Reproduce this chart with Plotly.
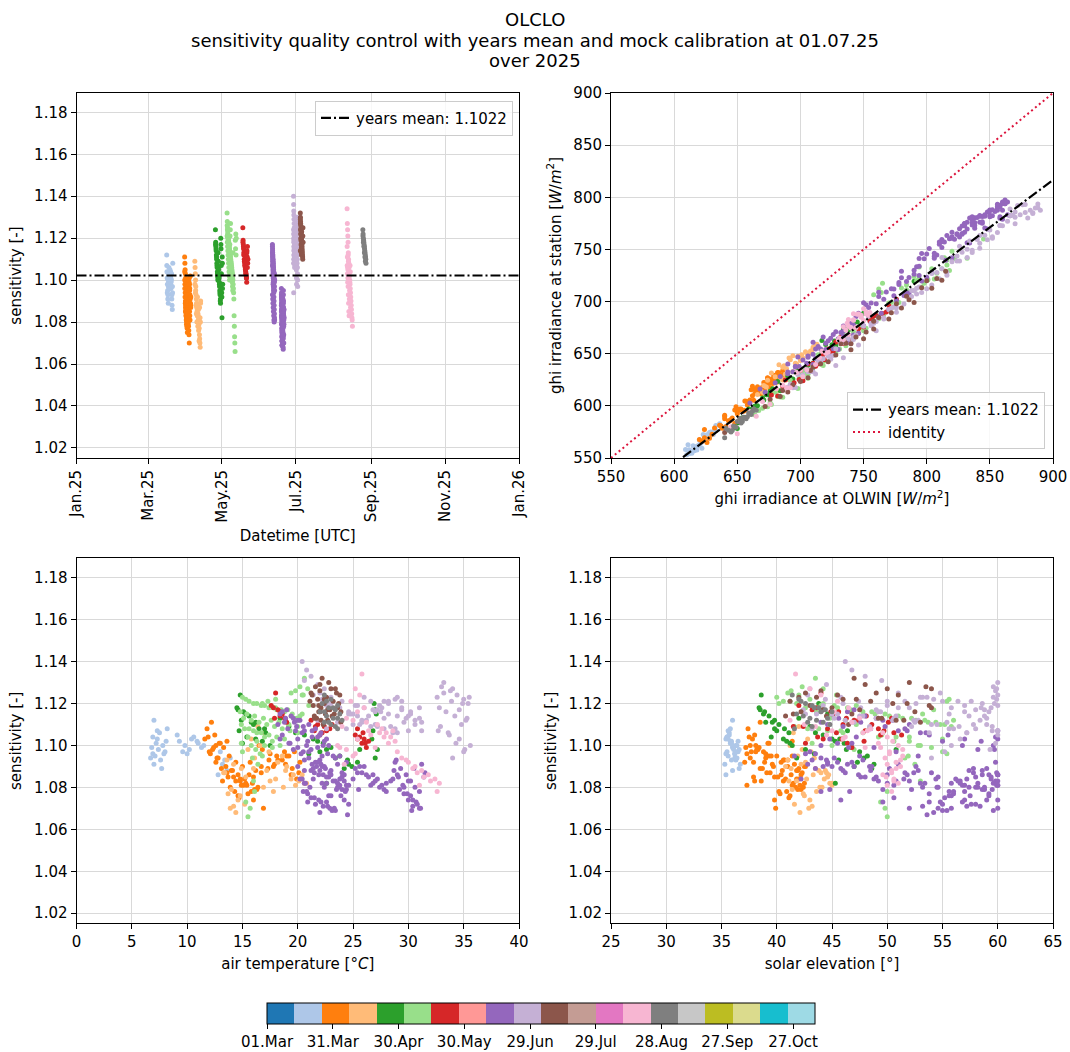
import numpy as np
import pandas as pd
import plotly.graph_objects as go

W, H = 1070, 1052
FONT = "DejaVu Sans"
FS = 15
MEAN = 1.1022
BASE_DATE = "2025-03-01"

TAB20 = ["#1f77b4", "#aec7e8", "#ff7f0e", "#ffbb78", "#2ca02c", "#98df8a",
         "#d62728", "#ff9896", "#9467bd", "#c5b0d5", "#8c564b", "#c49c94",
         "#e377c2", "#f7b6d2", "#7f7f7f", "#c7c7c7", "#bcbd22", "#dbdb8d",
         "#17becf", "#9edae5"]
CB_MIN, CB_MAX = 0, 250
CB_TICKS = [0, 30, 60, 90, 120, 150, 180, 210, 240]
CB_LABELS = ["01.Mar", "31.Mar", "30.Apr", "30.May", "29.Jun", "29.Jul",
             "28.Aug", "27.Sep", "27.Oct"]
TITLE_LINES = ["OLCLO",
               "sensitivity quality control with years mean and mock calibration at 01.07.25",
               "over 2025"]

# rows: (days after 01.Mar, sensitivity, air temperature degC, solar elevation deg, ghi at OLWIN W/m2)
light_blue = [
    (15.4, 1.112, 7.0, 36.0, 622), (15.6, 1.104, 6.9, 35.5, 612), (15.8, 1.101, 7.2, 35.8, 618),
    (16.0, 1.098, 7.4, 36.1, 624), (16.2, 1.095, 7.1, 35.6, 615), (16.4, 1.093, 7.6, 35.9, 620),
    (16.6, 1.100, 7.8, 36.3, 628), (16.8, 1.097, 8.0, 36.5, 631), (17.0, 1.103, 7.3, 35.4, 610),
    (17.2, 1.106, 7.5, 35.7, 616), (17.4, 1.099, 6.8, 36.0, 622), (17.6, 1.096, 7.9, 36.2, 626),
    (18.0, 1.102, 9.3, 35.8, 619), (18.2, 1.100, 9.8, 36.4, 629), (18.4, 1.098, 10.2, 36.6, 633),
    (18.6, 1.104, 10.6, 35.5, 613), (18.8, 1.101, 11.0, 35.9, 621), (19.0, 1.099, 11.3, 36.1, 625),
    (19.2, 1.097, 9.6, 36.3, 627), (19.4, 1.103, 10.4, 35.6, 614), (19.6, 1.091, 13.2, 36.7, 636),
    (19.8, 1.088, 13.6, 36.0, 623), (20.0, 1.086, 12.8, 35.4, 611), (20.2, 1.094, 13.9, 36.2, 626),
    (20.4, 1.108, 8.2, 35.8, 618), (15.5, 1.107, 7.3, 35.6, 614), (15.9, 1.094, 6.7, 36.4, 629),
    (16.3, 1.091, 7.0, 35.3, 609), (16.7, 1.089, 7.7, 36.6, 633), (17.1, 1.102, 8.1, 35.9, 620),
    (17.5, 1.096, 6.9, 36.2, 626), (18.1, 1.105, 9.1, 35.7, 617), (18.5, 1.102, 10.9, 36.5, 631),
    (18.9, 1.096, 10.0, 35.4, 611), (19.3, 1.100, 11.5, 36.0, 623), (19.7, 1.093, 13.4, 36.3, 628),
    (20.1, 1.097, 13.0, 35.5, 612),
]
orange = [
    (30.2, 1.111, 12.2, 38.5, 648), (30.4, 1.108, 11.8, 37.4, 626), (30.6, 1.105, 12.5, 38.0, 641),
    (30.8, 1.103, 11.6, 37.8, 638), (31.0, 1.101, 12.9, 39.2, 655), (31.2, 1.099, 13.3, 37.2, 622),
    (31.4, 1.097, 12.0, 38.8, 650), (31.6, 1.095, 13.8, 39.5, 658), (31.8, 1.094, 12.7, 37.6, 636),
    (32.0, 1.092, 14.4, 40.4, 668), (32.2, 1.090, 15.0, 41.0, 672), (32.4, 1.088, 14.1, 41.8, 680),
    (32.6, 1.086, 15.6, 42.2, 684), (32.8, 1.084, 14.8, 40.8, 670), (33.0, 1.082, 15.3, 41.5, 677),
    (33.2, 1.080, 13.9, 42.4, 682), (33.4, 1.078, 15.8, 40.2, 664), (33.6, 1.076, 14.6, 41.2, 674),
    (33.8, 1.074, 16.0, 39.8, 661), (34.0, 1.070, 16.9, 39.9, 662), (34.2, 1.098, 16.8, 38.3, 646),
    (34.4, 1.096, 17.5, 39.0, 653), (34.6, 1.093, 18.2, 40.6, 669), (34.8, 1.091, 18.9, 41.6, 678),
    (35.0, 1.089, 19.5, 42.0, 681), (35.2, 1.087, 20.1, 39.4, 657), (30.3, 1.100, 16.5, 38.1, 644),
    (30.9, 1.085, 16.0, 37.9, 640), (31.5, 1.083, 13.2, 38.6, 649), (32.3, 1.081, 14.9, 37.3, 624),
    (33.1, 1.079, 16.3, 41.9, 679), (33.7, 1.090, 17.8, 42.5, 686), (34.3, 1.095, 19.2, 40.0, 663),
    (34.9, 1.102, 13.6, 41.4, 676), (35.3, 1.092, 20.2, 38.9, 652),
    (30.25, 1.104, 11.9, 37.5, 628), (30.45, 1.098, 12.3, 38.2, 643), (30.65, 1.094, 12.8, 39.0, 653),
    (30.85, 1.090, 13.5, 39.7, 660), (31.05, 1.088, 14.0, 40.5, 667), (31.25, 1.086, 14.6, 41.3, 675),
    (31.45, 1.084, 15.2, 42.0, 682), (31.65, 1.082, 15.9, 42.5, 686), (31.85, 1.080, 16.4, 41.7, 679),
    (32.05, 1.078, 14.3, 40.9, 671), (32.25, 1.077, 15.5, 40.3, 666), (32.45, 1.075, 14.7, 41.1, 674),
    (32.65, 1.087, 16.7, 42.3, 684), (32.85, 1.089, 17.3, 38.7, 649), (33.05, 1.091, 17.9, 39.6, 659),
    (33.25, 1.093, 18.6, 40.7, 669), (33.45, 1.095, 19.0, 41.4, 676), (33.65, 1.097, 19.7, 37.7, 637),
    (33.85, 1.099, 12.4, 38.4, 645), (34.05, 1.101, 13.0, 39.3, 656), (34.25, 1.085, 13.7, 40.1, 664),
    (34.45, 1.083, 14.4, 38.0, 640), (34.65, 1.081, 15.1, 42.1, 683), (34.85, 1.092, 15.7, 37.1, 620),
    (35.05, 1.088, 16.2, 41.9, 681),
    (30.35, 1.096, 12.1, 37.3, 624), (30.55, 1.092, 12.6, 37.9, 632), (30.75, 1.089, 13.1, 38.5, 640),
    (30.95, 1.087, 13.6, 39.1, 648), (31.15, 1.085, 14.2, 39.8, 656), (31.35, 1.083, 14.8, 40.6, 665),
    (31.55, 1.081, 15.4, 41.4, 673), (31.75, 1.079, 16.1, 42.2, 682), (31.95, 1.090, 16.7, 42.6, 686),
    (32.15, 1.093, 17.4, 41.0, 669), (32.35, 1.095, 18.1, 39.3, 650), (32.55, 1.097, 18.8, 38.1, 637),
    (32.75, 1.086, 19.4, 40.4, 662), (32.95, 1.084, 19.9, 41.8, 677), (33.15, 1.100, 12.6, 37.6, 630),
]
light_orange = [
    (38.6, 1.109, 16.4, 42.0, 682), (38.8, 1.106, 17.0, 41.5, 676), (39.0, 1.103, 15.8, 42.8, 690),
    (39.2, 1.100, 16.6, 41.2, 672), (39.4, 1.097, 17.4, 43.1, 694), (39.6, 1.093, 13.6, 41.0, 670),
    (39.8, 1.091, 14.2, 42.2, 684), (40.0, 1.089, 14.9, 43.5, 697), (40.2, 1.087, 13.3, 44.0, 702),
    (40.4, 1.085, 15.3, 44.6, 708), (40.6, 1.083, 17.5, 41.8, 680), (40.8, 1.092, 18.2, 42.6, 688),
    (41.0, 1.088, 18.9, 43.8, 700), (41.2, 1.084, 19.4, 44.3, 705), (41.4, 1.081, 19.8, 45.0, 712),
    (41.6, 1.086, 20.4, 43.3, 696), (41.8, 1.082, 20.8, 44.8, 710), (42.0, 1.079, 14.0, 41.4, 674),
    (42.2, 1.077, 13.7, 42.4, 686), (42.4, 1.074, 14.6, 43.0, 692), (42.6, 1.072, 15.2, 41.6, 677),
    (42.8, 1.070, 13.9, 42.9, 691), (43.0, 1.068, 14.4, 42.1, 683), (43.2, 1.080, 16.9, 44.1, 704),
    (43.4, 1.090, 19.0, 40.8, 666), (41.1, 1.078, 17.8, 43.6, 698), (39.3, 1.095, 18.6, 41.9, 681),
    (38.7, 1.098, 15.5, 42.3, 686), (39.1, 1.094, 16.1, 43.4, 697), (39.5, 1.088, 17.2, 44.4, 706),
    (39.9, 1.084, 18.0, 42.7, 689), (40.3, 1.080, 18.7, 43.9, 701), (40.7, 1.086, 19.6, 44.7, 709),
    (41.3, 1.083, 20.1, 41.1, 671), (41.7, 1.076, 14.8, 42.5, 687), (42.1, 1.071, 14.2, 43.2, 694),
    (42.5, 1.087, 13.4, 44.5, 707), (42.9, 1.082, 20.6, 45.0, 713), (43.3, 1.089, 16.0, 41.3, 673),
]
green = [
    (55.6, 1.124, 14.8, 38.6, 650), (55.8, 1.118, 14.5, 38.4, 647), (56.0, 1.116, 15.1, 38.9, 652),
    (56.2, 1.114, 15.6, 39.3, 656), (56.4, 1.112, 14.9, 39.8, 662), (56.6, 1.110, 16.0, 40.2, 666),
    (56.8, 1.108, 16.5, 40.7, 671), (57.0, 1.106, 17.1, 41.1, 675), (57.2, 1.104, 15.4, 39.5, 659),
    (57.4, 1.102, 16.8, 40.9, 673), (57.6, 1.100, 17.5, 41.4, 678), (57.8, 1.113, 18.4, 42.0, 684),
    (58.0, 1.109, 19.2, 43.0, 694), (58.2, 1.105, 20.6, 44.2, 706), (58.4, 1.103, 21.4, 45.0, 714),
    (58.6, 1.101, 22.3, 46.1, 725), (58.8, 1.099, 23.0, 46.8, 732), (59.0, 1.097, 22.0, 47.5, 738),
    (59.2, 1.095, 23.8, 48.2, 745), (59.4, 1.093, 24.5, 45.6, 720), (59.6, 1.090, 24.9, 47.0, 734),
    (59.8, 1.089, 24.2, 48.6, 750), (60.0, 1.120, 26.9, 43.8, 702), (60.2, 1.115, 27.1, 44.6, 710),
    (60.4, 1.107, 26.8, 46.4, 728), (60.6, 1.098, 27.2, 42.6, 690), (60.8, 1.094, 27.0, 41.8, 682),
    (61.0, 1.082, 22.6, 45.3, 717), (61.2, 1.111, 16.2, 39.0, 654), (61.4, 1.096, 21.0, 43.4, 698),
    (61.6, 1.098, 25.6, 50.8, 790),
    (55.7, 1.117, 14.6, 38.5, 648), (56.1, 1.115, 15.3, 38.8, 651), (56.5, 1.111, 15.8, 39.6, 660),
    (56.9, 1.107, 14.7, 40.0, 664), (57.3, 1.103, 16.2, 40.6, 670), (57.7, 1.101, 15.0, 41.2, 676),
    (58.1, 1.106, 19.8, 43.5, 698), (58.5, 1.102, 21.8, 45.3, 717), (58.9, 1.098, 22.6, 46.3, 727),
    (59.3, 1.094, 23.4, 47.9, 742), (59.7, 1.091, 24.6, 48.8, 752), (60.1, 1.117, 27.0, 44.2, 706),
    (60.5, 1.103, 26.7, 45.7, 721), (60.9, 1.092, 25.4, 47.3, 736), (61.3, 1.108, 17.0, 39.8, 662),
]
light_green = [
    (65.2, 1.132, 20.6, 43.5, 698), (65.4, 1.128, 20.2, 42.3, 686), (65.6, 1.125, 19.4, 41.0, 674),
    (65.8, 1.123, 15.0, 40.0, 664), (66.0, 1.121, 15.6, 40.6, 670), (66.2, 1.120, 16.3, 41.8, 682),
    (66.4, 1.119, 17.0, 44.0, 704), (66.6, 1.118, 17.8, 45.5, 719), (66.8, 1.117, 18.5, 46.7, 731),
    (67.0, 1.116, 14.8, 47.8, 742), (67.2, 1.115, 15.4, 48.9, 752), (67.4, 1.114, 16.1, 50.2, 766),
    (67.6, 1.113, 16.9, 51.4, 778), (67.8, 1.112, 17.6, 52.6, 790), (68.0, 1.111, 18.3, 53.7, 801),
    (68.2, 1.110, 19.2, 54.8, 812), (68.4, 1.109, 20.0, 55.8, 822), (68.6, 1.108, 15.2, 42.8, 692),
    (68.8, 1.107, 16.0, 44.6, 710), (69.0, 1.106, 16.7, 46.0, 724), (69.2, 1.105, 17.4, 49.5, 758),
    (69.4, 1.104, 18.1, 52.0, 783), (69.6, 1.103, 18.8, 55.0, 816), (69.8, 1.101, 14.9, 43.2, 696),
    (70.0, 1.100, 15.8, 45.0, 714), (70.2, 1.098, 16.2, 47.0, 734), (70.4, 1.096, 16.6, 55.4, 820),
    (70.6, 1.094, 15.9, 51.6, 780), (70.8, 1.091, 16.4, 52.5, 790), (71.0, 1.083, 16.0, 53.0, 794),
    (71.2, 1.078, 16.1, 50.0, 764), (71.4, 1.073, 15.3, 49.4, 758), (71.6, 1.070, 15.7, 49.8, 762),
    (71.8, 1.066, 15.5, 50.0, 765), (72.0, 1.119, 21.0, 47.2, 736), (72.2, 1.115, 20.4, 53.2, 796),
    (72.4, 1.122, 18.0, 55.6, 832), (72.6, 1.112, 19.8, 56.0, 845), (72.8, 1.120, 16.8, 40.2, 667),
    (65.3, 1.126, 19.8, 41.3, 677), (65.5, 1.124, 20.4, 42.0, 684), (65.7, 1.122, 15.3, 43.0, 694),
    (65.9, 1.120, 16.0, 44.2, 706), (66.1, 1.119, 16.7, 45.2, 716), (66.3, 1.118, 17.4, 46.4, 728),
    (66.5, 1.117, 18.1, 47.6, 740), (66.7, 1.116, 18.8, 48.6, 750), (66.9, 1.115, 19.5, 49.8, 762),
    (67.1, 1.114, 20.2, 51.0, 774), (67.3, 1.113, 15.1, 52.2, 786), (67.5, 1.112, 15.8, 53.4, 798),
    (67.7, 1.111, 16.5, 54.4, 808), (67.9, 1.110, 17.2, 55.2, 816), (68.1, 1.109, 17.9, 41.6, 680),
    (68.3, 1.108, 18.6, 43.8, 702), (68.5, 1.107, 19.3, 45.8, 722), (68.7, 1.106, 20.0, 47.8, 742),
    (68.9, 1.104, 15.5, 49.2, 756), (69.1, 1.102, 16.3, 50.6, 770), (69.3, 1.100, 17.0, 52.8, 792),
    (69.5, 1.099, 17.7, 54.0, 804), (69.7, 1.097, 15.0, 55.0, 814), (69.9, 1.095, 16.8, 51.9, 784),
    (70.1, 1.113, 19.9, 44.8, 712),
    (65.25, 1.121, 17.3, 41.2, 676), (65.45, 1.118, 18.0, 42.6, 690), (65.65, 1.116, 18.7, 43.6, 699),
    (65.85, 1.114, 19.4, 45.0, 714), (66.05, 1.112, 20.1, 46.2, 726), (66.25, 1.110, 14.9, 47.2, 736),
    (66.45, 1.108, 15.6, 48.4, 748), (66.65, 1.106, 16.3, 49.6, 760), (66.85, 1.104, 17.0, 50.8, 772),
    (67.05, 1.102, 17.7, 52.0, 784), (67.25, 1.100, 18.4, 53.0, 794), (67.45, 1.117, 19.1, 54.2, 806),
    (67.65, 1.121, 19.8, 55.4, 818), (67.85, 1.124, 20.5, 45.4, 718), (68.05, 1.127, 20.9, 44.2, 706),
]
red = [
    (78.2, 1.125, 18.0, 44.0, 702), (78.4, 1.119, 17.6, 42.0, 682), (78.6, 1.117, 18.2, 43.2, 695),
    (78.8, 1.115, 18.6, 45.1, 714), (79.0, 1.113, 17.9, 46.3, 726), (79.2, 1.112, 21.2, 47.4, 738),
    (79.4, 1.110, 21.8, 48.6, 750), (79.6, 1.109, 22.4, 41.5, 677), (79.8, 1.108, 22.9, 44.6, 710),
    (80.0, 1.107, 21.5, 49.7, 760), (80.2, 1.106, 22.2, 50.6, 770), (80.4, 1.105, 25.2, 51.3, 776),
    (80.6, 1.104, 25.6, 43.7, 700), (80.8, 1.103, 26.0, 45.9, 722), (81.0, 1.102, 26.4, 47.9, 744),
    (81.2, 1.101, 25.8, 42.6, 688), (81.4, 1.099, 26.2, 46.8, 732), (81.6, 1.114, 18.4, 48.1, 746),
    (81.8, 1.111, 19.0, 50.1, 765), (82.0, 1.116, 22.0, 44.9, 712), (82.2, 1.108, 25.4, 49.2, 755),
    (82.4, 1.110, 23.1, 46.0, 724),
    (78.3, 1.118, 17.8, 43.6, 699), (78.7, 1.116, 18.4, 45.6, 719), (79.1, 1.112, 18.9, 47.0, 734),
    (79.5, 1.109, 21.6, 42.4, 686), (79.9, 1.107, 22.6, 48.0, 746), (80.3, 1.105, 22.0, 49.4, 757),
    (80.7, 1.103, 25.4, 44.2, 706), (81.1, 1.101, 26.1, 46.4, 728), (81.5, 1.113, 18.8, 50.4, 768),
    (81.9, 1.106, 25.9, 45.4, 718),
]
purple_early = [
    (102.6, 1.117, 19.0, 47.0, 738), (102.7, 1.115, 18.4, 45.0, 716), (102.8, 1.113, 19.6, 49.0, 756),
    (102.9, 1.112, 20.2, 50.5, 770), (103.0, 1.111, 18.8, 44.0, 705), (103.1, 1.110, 21.0, 52.0, 786),
    (103.2, 1.109, 19.9, 46.0, 726), (103.3, 1.108, 21.6, 48.5, 750), (103.4, 1.107, 20.6, 51.0, 776),
    (103.5, 1.106, 22.1, 53.5, 800), (103.6, 1.105, 18.6, 55.5, 820), (103.7, 1.104, 21.3, 59.8, 860),
    (103.8, 1.103, 22.6, 57.0, 834), (103.9, 1.102, 20.9, 58.5, 848), (104.0, 1.101, 19.3, 45.5, 720),
    (104.1, 1.100, 22.8, 44.0, 705), (104.2, 1.099, 21.8, 46.5, 730), (104.3, 1.097, 20.5, 43.0, 694),
    (104.4, 1.095, 23.2, 47.5, 742), (102.65, 1.093, 22.0, 44.5, 710), (102.85, 1.091, 23.6, 42.8, 690),
    (103.05, 1.089, 21.4, 45.8, 724), (103.25, 1.087, 22.9, 59.9, 856), (103.45, 1.085, 24.0, 58.0, 842),
    (103.65, 1.083, 23.4, 56.6, 830), (103.85, 1.081, 24.4, 60.0, 862), (104.05, 1.080, 22.4, 54.6, 812),
    (104.25, 1.103, 20.0, 60.0, 864), (104.45, 1.100, 22.3, 59.6, 858), (103.15, 1.098, 19.6, 59.7, 858),
    (102.62, 1.116, 18.6, 46.4, 730), (102.72, 1.114, 19.4, 48.0, 746), (102.82, 1.112, 20.0, 49.6, 762),
    (102.92, 1.110, 18.2, 44.6, 710), (103.02, 1.108, 19.1, 51.6, 782), (103.12, 1.106, 20.4, 53.0, 796),
    (103.22, 1.104, 21.8, 47.2, 738), (103.32, 1.102, 22.4, 55.0, 815), (103.42, 1.100, 20.8, 56.8, 832),
    (103.52, 1.098, 21.2, 58.2, 846), (103.62, 1.096, 22.7, 43.5, 699), (103.72, 1.094, 23.4, 45.2, 716),
    (103.82, 1.092, 21.6, 46.8, 732), (103.92, 1.090, 22.2, 44.2, 706), (104.02, 1.088, 23.0, 57.4, 838),
    (104.12, 1.086, 24.2, 58.6, 850), (104.22, 1.084, 23.8, 59.4, 856), (104.32, 1.082, 22.6, 55.8, 822),
    (104.42, 1.081, 24.6, 59.9, 860), (102.68, 1.107, 19.8, 60.0, 866),
    (102.64, 1.113, 18.9, 45.6, 722), (102.74, 1.111, 19.7, 47.6, 742), (102.84, 1.109, 20.5, 49.8, 764),
    (102.94, 1.107, 21.3, 51.8, 784), (103.04, 1.105, 22.0, 53.8, 804), (103.14, 1.103, 18.4, 44.8, 712),
    (103.24, 1.101, 19.2, 46.8, 734), (103.34, 1.099, 20.0, 48.8, 754), (103.44, 1.097, 21.0, 50.8, 774),
    (103.54, 1.095, 22.2, 52.8, 794),
]
purple_late = [
    (110.0, 1.096, 20.3, 42.6, 672), (110.1, 1.094, 21.0, 44.0, 690), (110.2, 1.092, 21.8, 45.5, 706),
    (110.3, 1.090, 22.4, 47.0, 722), (110.4, 1.088, 20.6, 48.5, 738), (110.5, 1.086, 23.0, 50.0, 754),
    (110.6, 1.084, 21.4, 51.5, 772), (110.7, 1.082, 22.2, 53.0, 790), (110.8, 1.080, 23.6, 54.5, 806),
    (110.9, 1.078, 20.8, 56.0, 824), (111.0, 1.076, 22.8, 57.5, 840), (111.1, 1.074, 24.2, 59.0, 836),
    (111.2, 1.072, 21.6, 55.0, 812), (111.3, 1.070, 23.3, 55.8, 820), (111.4, 1.068, 22.0, 54.2, 802),
    (111.5, 1.067, 24.5, 53.6, 796), (111.6, 1.089, 25.2, 43.5, 684), (111.7, 1.087, 25.8, 46.2, 714),
    (111.8, 1.085, 26.4, 49.0, 744), (111.9, 1.083, 27.0, 52.0, 778), (112.0, 1.081, 27.6, 57.0, 836),
    (112.1, 1.079, 25.5, 59.5, 856), (112.2, 1.086, 26.8, 60.0, 862), (112.3, 1.082, 28.0, 58.2, 846),
    (110.05, 1.092, 28.8, 59.8, 860), (110.15, 1.089, 29.3, 57.8, 844), (110.25, 1.086, 29.8, 60.0, 864),
    (110.35, 1.083, 30.2, 56.4, 828), (110.45, 1.080, 30.6, 58.8, 850), (110.55, 1.077, 29.6, 59.2, 842),
    (110.65, 1.074, 30.0, 60.0, 838), (110.75, 1.071, 30.4, 57.2, 830), (110.85, 1.069, 30.3, 55.4, 816),
    (110.95, 1.091, 31.2, 51.0, 766), (111.05, 1.085, 31.4, 48.0, 734), (111.15, 1.078, 31.0, 46.6, 718),
    (111.25, 1.090, 20.0, 52.6, 784), (111.35, 1.075, 21.2, 50.6, 762), (111.45, 1.079, 24.0, 44.8, 698),
    (111.55, 1.073, 22.6, 49.6, 750), (111.65, 1.095, 23.8, 41.6, 660), (111.75, 1.084, 20.4, 42.2, 668),
    (110.02, 1.093, 20.6, 43.2, 680), (110.08, 1.091, 21.3, 44.6, 696), (110.12, 1.088, 22.0, 46.0, 712),
    (110.18, 1.085, 22.6, 47.6, 728), (110.22, 1.083, 23.2, 49.2, 746), (110.28, 1.081, 23.8, 50.6, 762),
    (110.32, 1.079, 24.4, 52.2, 780), (110.38, 1.077, 20.9, 53.8, 798), (110.42, 1.075, 21.5, 55.2, 814),
    (110.48, 1.073, 22.1, 56.8, 826), (110.52, 1.071, 22.7, 58.4, 830), (110.58, 1.069, 23.4, 59.6, 834),
    (110.62, 1.087, 24.0, 54.0, 806), (110.68, 1.084, 20.2, 56.2, 826), (110.72, 1.080, 21.1, 58.0, 844),
    (110.78, 1.076, 23.0, 59.2, 842), (110.82, 1.072, 24.6, 57.6, 828), (110.88, 1.090, 25.6, 45.0, 702),
    (110.92, 1.086, 26.2, 47.4, 726), (110.98, 1.082, 26.8, 50.0, 756), (111.02, 1.080, 27.4, 53.2, 792),
    (111.08, 1.078, 28.0, 55.6, 820), (111.12, 1.084, 25.0, 57.2, 838), (111.18, 1.088, 28.7, 58.6, 850),
    (111.22, 1.085, 29.1, 59.4, 858), (111.28, 1.081, 29.5, 60.0, 852), (111.32, 1.077, 29.9, 56.0, 824),
    (111.38, 1.074, 30.4, 57.0, 830), (111.42, 1.072, 30.8, 58.0, 832), (111.48, 1.070, 31.1, 54.6, 810),
    (111.52, 1.087, 31.5, 52.4, 786), (111.58, 1.083, 30.0, 50.8, 768), (111.62, 1.079, 29.2, 49.6, 752),
    (111.68, 1.093, 28.9, 47.8, 734), (111.72, 1.090, 21.7, 48.4, 740), (111.78, 1.086, 22.3, 51.8, 778),
    (111.82, 1.082, 23.6, 53.4, 794), (111.88, 1.078, 20.5, 44.0, 690), (111.92, 1.074, 21.9, 45.8, 710),
    (111.98, 1.070, 22.9, 60.0, 836),
    (110.03, 1.088, 21.2, 52.8, 790), (110.07, 1.085, 22.8, 54.6, 808), (110.13, 1.082, 20.7, 56.6, 828),
    (110.17, 1.079, 23.5, 58.6, 848), (110.23, 1.083, 24.2, 59.8, 858), (110.27, 1.086, 21.9, 60.0, 862),
    (110.33, 1.089, 22.5, 59.0, 852), (110.37, 1.076, 23.9, 55.6, 818), (110.43, 1.073, 20.9, 54.8, 810),
    (110.47, 1.071, 22.3, 53.2, 794), (110.53, 1.069, 23.1, 55.0, 812), (110.57, 1.092, 24.4, 44.6, 696),
    (110.63, 1.090, 26.0, 48.6, 740), (110.67, 1.087, 25.4, 51.6, 774), (110.73, 1.084, 27.2, 54.4, 806),
    (110.77, 1.081, 26.6, 56.8, 832), (110.83, 1.079, 27.8, 58.8, 850), (110.87, 1.083, 28.4, 60.0, 860),
    (110.93, 1.086, 29.0, 59.2, 854), (110.97, 1.080, 29.6, 57.4, 838), (111.03, 1.076, 30.2, 55.8, 820),
    (111.07, 1.073, 30.7, 53.8, 800), (111.13, 1.070, 31.0, 52.0, 780), (111.17, 1.089, 30.5, 50.2, 760),
    (111.23, 1.084, 28.6, 48.8, 746), (111.27, 1.091, 22.1, 46.4, 720), (111.33, 1.087, 21.5, 57.8, 844),
    (111.37, 1.082, 20.6, 59.6, 856), (111.43, 1.080, 23.7, 58.2, 846), (111.47, 1.078, 24.3, 57.0, 836),
]
light_purple = [
    (120.0, 1.140, 20.4, 46.2, 728), (120.1, 1.136, 20.8, 46.8, 734), (120.2, 1.133, 21.2, 48.0, 746),
    (120.3, 1.131, 20.6, 49.5, 760), (120.4, 1.129, 21.8, 44.5, 712), (120.5, 1.127, 22.4, 43.0, 696),
    (120.6, 1.125, 22.0, 51.0, 776), (120.7, 1.123, 23.0, 53.0, 796), (120.8, 1.121, 24.0, 55.0, 816),
    (120.9, 1.119, 25.2, 57.0, 836), (121.0, 1.118, 26.0, 58.5, 852), (121.1, 1.117, 26.8, 42.4, 690),
    (121.2, 1.116, 27.5, 44.0, 706), (121.3, 1.115, 28.2, 45.5, 722), (121.4, 1.114, 29.0, 47.5, 742),
    (121.5, 1.113, 29.8, 49.0, 756), (121.6, 1.112, 30.6, 50.5, 770), (121.7, 1.111, 31.2, 52.5, 792),
    (121.8, 1.110, 25.6, 54.5, 812), (121.9, 1.109, 27.2, 56.5, 832), (122.0, 1.108, 28.8, 58.0, 846),
    (122.1, 1.107, 30.0, 59.5, 866), (122.2, 1.128, 33.0, 59.6, 880), (122.3, 1.126, 33.8, 59.8, 884),
    (122.4, 1.124, 34.4, 60.0, 888), (122.5, 1.122, 35.0, 59.9, 886), (122.6, 1.120, 35.4, 59.7, 882),
    (122.7, 1.118, 32.8, 59.4, 878), (122.8, 1.116, 33.4, 59.2, 874), (122.9, 1.114, 34.2, 58.8, 870),
    (123.0, 1.112, 35.2, 58.4, 864), (123.1, 1.110, 34.8, 57.8, 858), (123.2, 1.106, 33.6, 57.2, 850),
    (123.3, 1.103, 34.6, 56.6, 842), (123.4, 1.100, 35.6, 55.8, 834), (123.45, 1.097, 35.0, 55.2, 826),
    (120.15, 1.094, 34.0, 54.0, 812), (120.35, 1.119, 22.6, 60.0, 888), (120.55, 1.115, 24.6, 45.0, 716),
    (120.75, 1.111, 23.6, 47.0, 738), (120.95, 1.121, 29.4, 50.0, 766), (121.15, 1.118, 31.0, 52.0, 788),
    (121.35, 1.123, 32.6, 53.6, 804), (121.55, 1.115, 25.0, 55.6, 824), (121.75, 1.121, 27.8, 57.6, 842),
    (120.05, 1.124, 21.4, 42.8, 694), (120.12, 1.122, 22.2, 44.4, 710), (120.22, 1.120, 23.0, 46.0, 726),
    (120.32, 1.118, 23.8, 47.6, 742), (120.42, 1.116, 24.6, 49.2, 758), (120.52, 1.114, 25.4, 50.8, 774),
    (120.62, 1.112, 26.2, 52.4, 790), (120.72, 1.110, 27.0, 54.0, 808), (120.82, 1.108, 27.8, 55.6, 824),
    (120.92, 1.106, 28.6, 57.2, 840), (121.02, 1.117, 29.4, 58.8, 856), (121.12, 1.115, 30.2, 43.6, 702),
    (121.22, 1.113, 31.0, 45.2, 718), (121.32, 1.111, 25.8, 46.8, 734), (121.42, 1.109, 26.6, 48.4, 750),
    (121.52, 1.119, 27.4, 50.0, 766), (121.62, 1.121, 28.2, 51.6, 782), (121.72, 1.123, 29.0, 53.2, 800),
    (121.82, 1.125, 33.2, 54.8, 816), (121.92, 1.121, 33.9, 56.4, 832), (122.02, 1.117, 34.6, 58.0, 848),
    (122.12, 1.113, 35.3, 59.0, 860), (122.22, 1.109, 32.9, 59.5, 868), (122.32, 1.105, 33.7, 60.0, 876),
    (122.42, 1.101, 34.3, 59.8, 872), (122.52, 1.098, 35.1, 59.3, 866), (122.62, 1.127, 34.0, 59.9, 884),
    (122.72, 1.130, 33.2, 60.0, 890), (122.82, 1.112, 21.8, 52.8, 794), (122.92, 1.108, 22.6, 56.0, 828),
    (120.08, 1.108, 24.4, 43.2, 698), (120.18, 1.110, 25.0, 44.8, 714), (120.28, 1.112, 25.8, 46.2, 728),
    (120.38, 1.114, 26.4, 47.8, 744), (120.48, 1.116, 27.0, 49.4, 760), (120.58, 1.118, 27.6, 51.0, 776),
    (120.68, 1.120, 28.2, 52.6, 792), (120.78, 1.122, 28.8, 54.2, 810), (120.88, 1.118, 29.4, 55.8, 826),
    (120.98, 1.114, 30.0, 57.4, 842), (121.08, 1.110, 30.6, 59.0, 858), (121.18, 1.107, 31.2, 60.0, 870),
    (121.28, 1.115, 24.8, 42.6, 692), (121.38, 1.119, 25.4, 44.2, 708), (121.48, 1.123, 26.0, 45.8, 724),
    (121.58, 1.121, 26.6, 47.4, 740), (121.68, 1.117, 27.2, 49.0, 756), (121.78, 1.113, 27.8, 50.6, 772),
    (121.88, 1.109, 28.4, 52.2, 788), (121.98, 1.106, 29.0, 53.8, 804), (122.08, 1.111, 29.6, 55.4, 820),
    (122.18, 1.116, 30.2, 57.0, 836), (122.28, 1.120, 34.9, 58.6, 852), (122.38, 1.123, 35.5, 59.6, 870),
    (122.48, 1.107, 32.7, 60.0, 878),
]
brown = [
    (125.6, 1.132, 22.2, 47.0, 740), (125.7, 1.130, 22.8, 52.0, 790), (125.8, 1.128, 21.6, 53.5, 804),
    (125.9, 1.127, 23.4, 54.0, 812), (126.0, 1.126, 22.0, 44.0, 706), (126.1, 1.125, 21.2, 49.0, 758),
    (126.2, 1.124, 23.8, 51.0, 780), (126.3, 1.123, 22.6, 42.0, 684), (126.4, 1.122, 21.8, 46.0, 728),
    (126.5, 1.121, 23.2, 48.5, 752), (126.6, 1.120, 22.4, 50.5, 772), (126.7, 1.119, 21.4, 43.0, 694),
    (126.8, 1.118, 23.6, 45.0, 716), (126.9, 1.117, 22.9, 47.5, 744), (127.0, 1.116, 21.9, 52.5, 796),
    (127.1, 1.115, 22.5, 41.5, 676), (127.2, 1.114, 23.1, 44.5, 710), (127.3, 1.113, 21.7, 49.5, 762),
    (127.4, 1.112, 22.7, 51.5, 784), (127.5, 1.111, 23.9, 53.0, 800), (127.6, 1.110, 22.3, 46.5, 732),
    (127.7, 1.121, 21.1, 41.2, 672), (127.8, 1.125, 23.5, 42.6, 690), (127.9, 1.118, 22.1, 54.0, 815),
    (125.65, 1.114, 21.5, 40.8, 640),
    (125.62, 1.129, 22.0, 48.0, 750), (125.72, 1.127, 23.0, 50.0, 770), (125.82, 1.124, 21.3, 45.5, 722),
    (125.92, 1.122, 22.4, 47.2, 740), (126.02, 1.120, 23.7, 51.8, 786), (126.12, 1.119, 21.9, 53.8, 808),
    (126.22, 1.117, 22.7, 44.2, 708), (126.32, 1.115, 23.3, 46.8, 736), (126.42, 1.113, 21.5, 49.2, 758),
    (126.52, 1.112, 22.1, 50.8, 776), (126.62, 1.116, 23.9, 42.2, 686), (126.72, 1.123, 22.5, 43.6, 700),
]
pink = [
    (164.2, 1.134, 25.8, 41.7, 650), (164.4, 1.127, 25.2, 43.0, 665), (164.6, 1.124, 25.6, 44.0, 676),
    (164.8, 1.121, 24.8, 45.5, 692), (165.0, 1.118, 26.0, 46.5, 702), (165.2, 1.113, 24.4, 47.5, 712),
    (165.4, 1.110, 27.2, 42.5, 660), (165.6, 1.108, 27.6, 48.5, 722), (165.8, 1.106, 28.0, 49.6, 734),
    (166.0, 1.104, 28.4, 50.0, 738), (166.2, 1.102, 28.8, 50.5, 744), (166.4, 1.100, 23.6, 51.0, 750),
    (166.6, 1.098, 24.4, 51.4, 754), (166.8, 1.096, 25.2, 50.2, 740), (167.0, 1.094, 29.4, 49.8, 736),
    (167.2, 1.092, 30.0, 50.8, 748), (167.4, 1.090, 30.6, 51.2, 752), (167.6, 1.088, 31.2, 50.4, 742),
    (167.8, 1.086, 31.8, 49.6, 734), (168.0, 1.084, 32.4, 50.6, 746), (168.2, 1.082, 32.8, 51.0, 750),
    (168.4, 1.081, 31.0, 50.0, 738), (168.6, 1.078, 32.6, 50.4, 742), (164.3, 1.107, 26.4, 45.0, 686),
    (164.5, 1.103, 25.4, 46.0, 697), (164.7, 1.099, 27.0, 48.0, 717), (164.9, 1.105, 26.6, 44.5, 681),
    (165.1, 1.112, 25.0, 41.2, 645), (165.3, 1.109, 24.0, 43.5, 670),
    (164.25, 1.116, 25.4, 45.2, 689), (164.45, 1.111, 26.2, 46.8, 705), (164.65, 1.106, 27.4, 47.8, 715),
    (164.85, 1.101, 28.2, 49.2, 730), (165.05, 1.097, 29.0, 50.2, 740), (165.25, 1.093, 29.8, 51.2, 752),
    (165.45, 1.089, 30.4, 50.8, 748), (165.65, 1.085, 31.4, 49.9, 737), (165.85, 1.083, 32.0, 50.6, 745),
    (166.05, 1.091, 24.2, 50.0, 738), (166.25, 1.095, 25.0, 51.4, 755), (166.45, 1.099, 23.8, 49.4, 731),
    (166.65, 1.107, 28.6, 48.2, 720), (166.85, 1.104, 27.8, 46.2, 700), (167.05, 1.087, 30.8, 50.4, 742),
]
gray = [
    (177.2, 1.124, 22.4, 41.4, 640), (177.4, 1.122, 23.0, 42.0, 645), (177.6, 1.120, 22.2, 42.6, 649),
    (177.8, 1.119, 23.6, 43.2, 653), (178.0, 1.118, 22.8, 43.8, 657), (178.2, 1.117, 23.4, 44.4, 661),
    (178.4, 1.116, 22.0, 45.0, 665), (178.6, 1.115, 23.8, 41.8, 643), (178.8, 1.114, 22.6, 42.4, 647),
    (179.0, 1.113, 23.2, 43.0, 651), (179.2, 1.112, 24.0, 43.6, 655), (179.4, 1.111, 22.4, 44.2, 659),
    (179.6, 1.110, 23.0, 44.8, 663), (179.8, 1.108, 23.6, 41.6, 641),
    (177.3, 1.121, 22.6, 42.2, 646), (177.7, 1.118, 23.2, 43.4, 654), (178.1, 1.116, 22.4, 44.0, 658),
    (178.5, 1.113, 23.6, 44.6, 662), (178.9, 1.111, 22.8, 42.8, 650), (179.3, 1.109, 23.4, 43.2, 652),
]

groups = [light_blue, orange, light_orange, green, light_green, red,
          purple_early, purple_late, light_purple, brown, pink, gray]
rows = sorted([r for g in groups for r in g], key=lambda r: r[0])
day = np.array([r[0] for r in rows])
sens = np.array([r[1] for r in rows])
temp = np.array([r[2] for r in rows])
elev = np.array([r[3] for r in rows])
ghi_ref = np.array([r[4] for r in rows], dtype=float)
ghi_station = ghi_ref / sens
dates = pd.Timestamp(BASE_DATE) + pd.to_timedelta(day, unit="D")

colorscale = []
for i, c in enumerate(TAB20):
    colorscale.append([i / 20, c])
    colorscale.append([(i + 1) / 20, c])


def marker(show=False):
    m = dict(color=day, colorscale=colorscale, cmin=CB_MIN, cmax=CB_MAX,
             size=5, line=dict(width=0), opacity=1)
    if show:
        m["showscale"] = True
        m["colorbar"] = dict(
            orientation="h", xref="container", yref="container",
            x=541 / W, xanchor="center", y=1 - 1002.7 / H, yanchor="top",
            len=548, lenmode="pixels", thickness=20.6, thicknessmode="pixels",
            outlinewidth=1, outlinecolor="black", xpad=0, ypad=0,
            tickmode="array", tickvals=CB_TICKS, ticktext=CB_LABELS,
            ticks="outside", ticklen=5, tickwidth=1, tickcolor="black",
            tickfont=dict(family=FONT, size=FS, color="black"))
    else:
        m["showscale"] = False
    return m


fig = go.Figure()
fig.add_trace(go.Scatter(x=dates, y=sens, mode="markers", marker=marker(True),
                         showlegend=False, xaxis="x", yaxis="y", hoverinfo="skip"))
fig.add_trace(go.Scatter(x=[pd.Timestamp("2025-01-01"), pd.Timestamp("2026-01-01")], y=[MEAN, MEAN],
                         mode="lines", line=dict(color="black", width=2.2, dash="10px,3px,2px,3px"),
                         name=f"years mean: {MEAN}", legend="legend", xaxis="x", yaxis="y"))
fig.add_trace(go.Scatter(x=ghi_ref, y=ghi_station, mode="markers", marker=marker(),
                         showlegend=False, xaxis="x2", yaxis="y2", hoverinfo="skip"))
line_x = np.array([550.0, 900.0])
fig.add_trace(go.Scatter(x=line_x, y=line_x / MEAN, mode="lines",
                         line=dict(color="black", width=2.2, dash="10px,3px,2px,3px"),
                         name=f"years mean: {MEAN}", legend="legend2", xaxis="x2", yaxis="y2"))
fig.add_trace(go.Scatter(x=line_x, y=line_x, mode="lines",
                         line=dict(color="#dc143c", width=2, dash="2px,3px"),
                         name="identity", legend="legend2", xaxis="x2", yaxis="y2"))
fig.add_trace(go.Scatter(x=temp, y=sens, mode="markers", marker=marker(),
                         showlegend=False, xaxis="x3", yaxis="y3", hoverinfo="skip"))
fig.add_trace(go.Scatter(x=elev, y=sens, mode="markers", marker=marker(),
                         showlegend=False, xaxis="x4", yaxis="y4", hoverinfo="skip"))

tickfont = dict(family=FONT, size=FS, color="black")
titlefont = dict(family=FONT, size=FS, color="black")


def ax(domain, **kw):
    d = dict(domain=domain, showline=True, linecolor="black", linewidth=1, mirror=True,
             ticks="outside", ticklen=5, tickwidth=1, tickcolor="black",
             showgrid=True, gridcolor="#d9d9d9", gridwidth=1, zeroline=False,
             tickfont=tickfont, automargin=False)
    d.update(kw)
    return d


XL = [76.5 / W, 519 / W]
XR = [611 / W, 1053 / W]
YT = [1 - 458 / H, 1 - 93 / H]
YB = [1 - 923.3 / H, 1 - 558.3 / H]
SENS_RANGE = [MEAN - 0.087, MEAN + 0.087]
SENS_TICKS = [1.02, 1.04, 1.06, 1.08, 1.10, 1.12, 1.14, 1.16, 1.18]
DATE_TICKS = ["2025-01-01", "2025-03-01", "2025-05-01", "2025-07-01", "2025-09-01",
              "2025-11-01", "2026-01-01"]
DATE_LABELS = ["Jan.25", "Mar.25", "May.25", "Jul.25", "Sep.25", "Nov.25", "Jan.26"]

title_ys = [19.3, 40.7, 60.7]
annotations = [dict(text=t, x=0.5, xref="paper", xanchor="center", y=1 - yy / H, yref="paper",
                    yanchor="middle", showarrow=False,
                    font=dict(family=FONT, size=18, color="black"))
               for t, yy in zip(TITLE_LINES, title_ys)]

fig.update_layout(
    width=W, height=H, margin=dict(l=0, r=0, t=0, b=0, autoexpand=False),
    paper_bgcolor="white", plot_bgcolor="white",
    font=dict(family=FONT, size=FS, color="black"),
    annotations=annotations,
    xaxis=ax(XL, anchor="y", type="date", range=["2025-01-01", "2026-01-01"],
             tickmode="array", tickvals=DATE_TICKS, ticktext=DATE_LABELS, tickangle=-90,
             title=dict(text="Datetime [UTC]", font=titlefont, standoff=8)),
    yaxis=ax(YT, anchor="x", range=SENS_RANGE, tickmode="array", tickvals=SENS_TICKS,
             tickformat=".2f", title=dict(text="sensitivity [-]", font=titlefont, standoff=8)),
    xaxis2=ax(XR, anchor="y2", range=[550, 900], dtick=50, tick0=550,
              title=dict(text="ghi irradiance at OLWIN [<i>W</i>/<i>m</i><sup>2</sup>]", font=titlefont, standoff=8)),
    yaxis2=ax(YT, anchor="x2", range=[550, 900], dtick=50, tick0=550,
              title=dict(text="ghi irradiance at station [<i>W</i>/<i>m</i><sup>2</sup>]", font=titlefont, standoff=8)),
    xaxis3=ax(XL, anchor="y3", range=[0, 40], dtick=5, tick0=0,
              title=dict(text="air temperature [°<i>C</i>]", font=titlefont, standoff=8)),
    yaxis3=ax(YB, anchor="x3", range=SENS_RANGE, tickmode="array", tickvals=SENS_TICKS,
              tickformat=".2f", title=dict(text="sensitivity [-]", font=titlefont, standoff=8)),
    xaxis4=ax(XR, anchor="y4", range=[25, 65], dtick=5, tick0=25,
              title=dict(text="solar elevation [°]", font=titlefont, standoff=8)),
    yaxis4=ax(YB, anchor="x4", range=SENS_RANGE, tickmode="array", tickvals=SENS_TICKS,
              tickformat=".2f", title=dict(text="sensitivity [-]", font=titlefont, standoff=8)),
    legend=dict(x=513 / W, y=1 - 100.7 / H, xanchor="right", yanchor="top",
                bgcolor="rgba(255,255,255,0.8)", bordercolor="#cccccc", borderwidth=1,
                font=dict(family=FONT, size=FS, color="black")),
    legend2=dict(x=1045 / W, y=1 - 449.3 / H, xanchor="right", yanchor="bottom",
                 bgcolor="rgba(255,255,255,0.8)", bordercolor="#cccccc", borderwidth=1,
                 font=dict(family=FONT, size=FS, color="black"), tracegroupgap=0),
)

fig.write_html("out.html")
